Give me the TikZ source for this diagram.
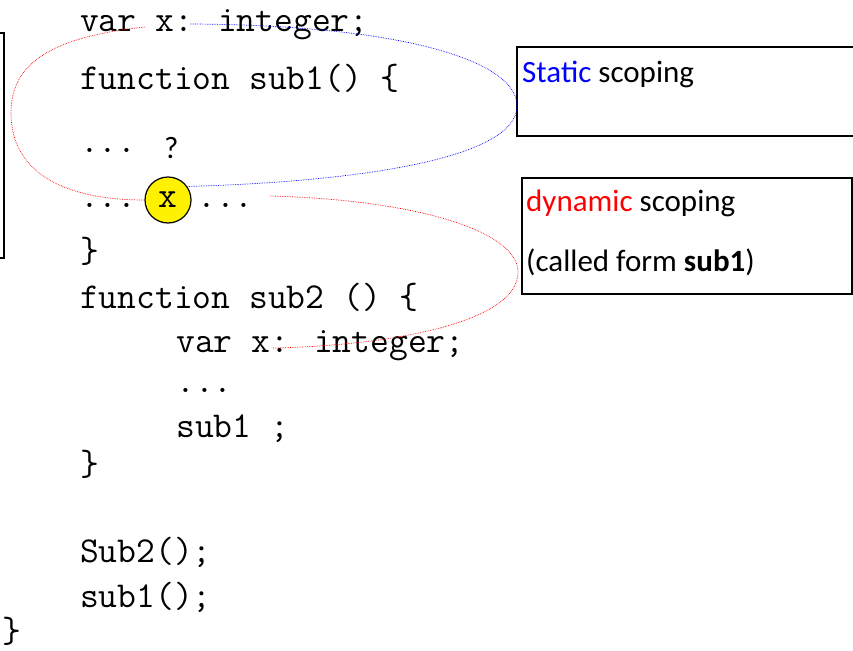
\documentclass[tikz,border=0pt]{standalone}
\usepackage{fontspec}
\setmainfont{Carlito}
\usepackage{tikz}

\begin{document}
\begin{tikzpicture}[x=1pt,y=-1pt,draw=black!100]
	\def \codesize{\fontsize{36.5}{40}\selectfont}
	\def \notesize{\fontsize{31}{36}\selectfont}
	\tikzstyle{code}=[anchor=base west,inner sep=0pt,font=\ttfamily\codesize]
	\tikzstyle{note}=[anchor=base west,inner sep=0pt,font=\notesize]
	\tikzstyle{notebox}=[draw=black!100,line width=1.2pt]
	\tikzstyle{varcirc}=[circle,draw=black!100,fill=yellow,line width=1.2pt,inner sep=0pt,minimum size=46pt,font=\ttfamily\codesize]
	\tikzstyle{scope-link}=[densely dotted,line width=0.7pt]
	\useasboundingbox (0,0) rectangle (853,650);
	% outer code
	\node[code] (globvar)  at (80,32)  {var x: integer;};
	\node[code] (sub1head) at (80,90)  {function sub1() \{};
	\node[code] (dotsa)    at (80,152) {...};
	\node[note] (quest)    at (164,158) {?};
	\node[code] (dotsb)    at (80,207) {...};
	\node[varcirc] (xc)    at (168,200) {x};
	\node[code] (dotsc)    at (197,207) {...};
	\node[code] (sub1end)  at (80,262) {\}};
	\node[code] (sub2head) at (80,308) {function sub2 () \{};
	\node[code] (locvar)   at (176,352) {var x: integer;};
	\node[code] (dotsd)    at (176,392) {...};
	\node[code] (callsub)  at (176,437) {sub1 ;};
	\node[code] (sub2end)  at (80,475) {\}};
	\node[code] (callb)    at (80,562) {Sub2();};
	\node[code] (calla)    at (80,607) {sub1();};
	\node[code] (mainend)  at (2,642)  {\}};
	% left bracket (cut off)
	\draw[line width=1.2pt] (0,33) -- (4,33) -- (4,258) -- (0,258);
	% note boxes
	\draw[notebox] (517,47) rectangle (860,136);
	\node[note] (static-lbl) at (522,83) {\textcolor{blue}{Static} scoping};
	\draw[notebox] (522,178) rectangle (852,294);
	\node[note] (dyn-lbl)  at (526,211) {\textcolor{red}{dynamic} scoping};
	\node[note] (call-lbl) at (526,271) {(called form \textbf{sub1})};
	% scope links
	\coordinate (glob-r) at (145,27);
	\coordinate (glob-b) at (190,24);
	\coordinate (dots-r) at (270,196);
	\coordinate (loc-x)  at (272,348);
	\draw[scope-link,red]  (glob-r) .. controls (40,38) and (11,70) .. (11,113)
		.. controls (11,170) and (60,200) .. (xc.west);
	\draw[scope-link,blue] (glob-b) .. controls (400,25) and (517,60) .. (517,106)
		.. controls (517,160) and (350,182) .. (xc.35);
	\draw[scope-link,red]  (dots-r) .. controls (420,200) and (518,232) .. (518,272)
		.. controls (518,325) and (380,346) .. (loc-x);
\end{tikzpicture}
\end{document}
